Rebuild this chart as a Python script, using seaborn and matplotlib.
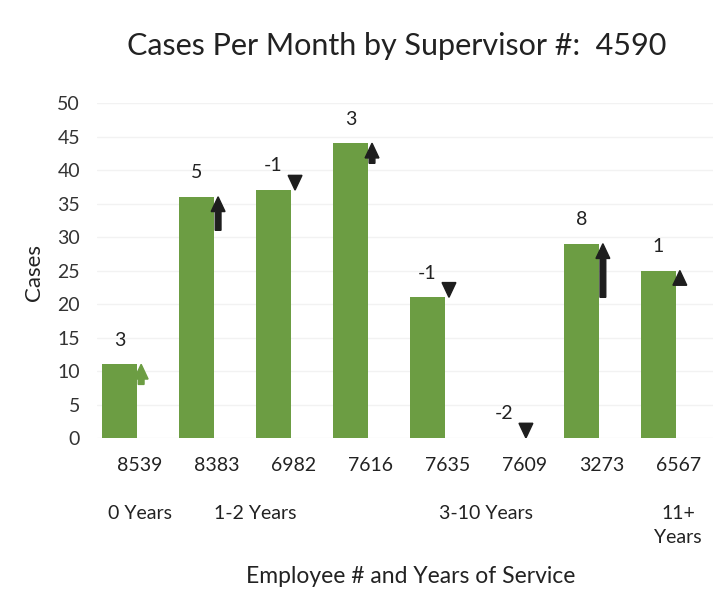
import numpy as np
import pandas as pd
import matplotlib
matplotlib.use("Agg")
import matplotlib.pyplot as plt
import seaborn as sns

employees = ["8539", "8383", "6982", "7616", "7635", "7609", "3273", "6567"]
cases = [11, 36, 37, 44, 21, 0, 29, 25]
changes = [3, 5, -1, 3, -1, -2, 8, 1]
groups = ["0 Years", "1-2 Years", "3-10 Years", "11+\nYears"]
group_members = [[0], [1, 2], [3, 4, 5, 6], [7]]
yticks = [0, 5, 10, 15, 20, 25, 30, 35, 40, 45, 50]

sns.set_theme(style="white")
plt.rcParams["font.family"] = ["Lato", "DejaVu Sans"]

GREEN = "#6c9d43"
DARK = "#1e1e1e"

fig = plt.figure(figsize=(7.26, 6.02), dpi=100)
ax = fig.add_axes([0.134, 0.2724, 0.848, 0.5565])

idx = np.arange(len(employees))
df = pd.DataFrame({"pos": idx - 0.26, "cases": cases})
sns.barplot(data=df, x="pos", y="cases", native_scale=True, orient="x",
            width=0.455, color=GREEN, saturation=1, ax=ax, edgecolor="none")

ax.set_xlim(-0.55, 7.45)
ax.set_ylim(0, 50)
ax.set_yticks(yticks)
ax.set_yticklabels([str(t) for t in yticks], fontsize=14, color="#333333")
ax.set_xticks(idx)
ax.set_xticklabels(employees, fontsize=14, color="#222222")
ax.tick_params(axis="x", length=0, pad=14)
ax.tick_params(axis="y", length=0, pad=12.5)
for s in ax.spines.values():
    s.set_visible(False)
ax.yaxis.grid(True, color="#f2f2f2", linewidth=1)
ax.set_axisbelow(True)

# change labels and arrows
for i, (v, c) in enumerate(zip(cases, changes)):
    ax.text(i - 0.26, v + 3.6, str(c), ha="center", va="center",
            fontsize=14, color="#222222")
    hl = 2.2
    sign = 1 if c > 0 else -1
    length = max(abs(c), hl)
    start = v - sign * length
    col = GREEN if i == 0 else DARK
    ax.arrow(i + 0.02, start, 0, sign * length, width=0.075,
             head_width=0.18, head_length=hl, length_includes_head=True,
             color=col, zorder=5)

# group labels
tr = ax.get_xaxis_transform()
for g, members in zip(groups, group_members):
    xc = np.mean(members)
    ax.text(xc, -0.2, g, transform=tr, ha="center", va="top",
            fontsize=14, color="#222222", linespacing=1.5)

ax.set_xlabel("")
ax.set_ylabel("")
fig.text(0.047, 0.548, "Cases", rotation=90, ha="center", va="center",
         fontsize=16, color="#222222")
fig.text(0.565, 0.043, "Employee # and Years of Service", ha="center",
         va="center", fontsize=16.5, color="#222222")
fig.text(0.547, 0.924, "Cases Per Month by Supervisor #:  4590",
         ha="center", va="center", fontsize=22, color="#222222")

fig.savefig("out.png", dpi=100)
